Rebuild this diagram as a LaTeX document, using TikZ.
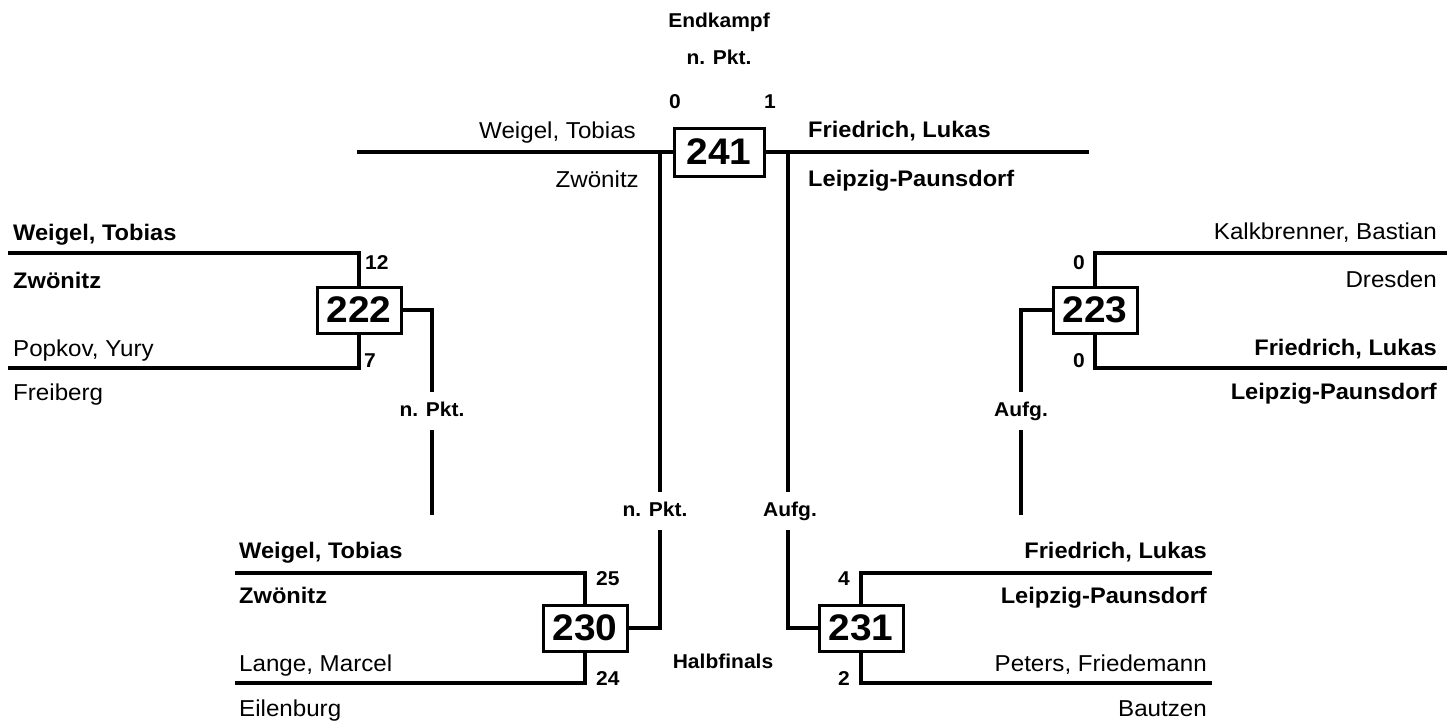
\documentclass[tikz,border=0pt]{standalone}
\usepackage{fontspec}
\setmainfont{Liberation Sans}[FakeStretch=1.05]
\begin{document}
\begin{tikzpicture}[x=1pt,y=-1pt,line join=miter]
\tikzset{
 ln/.style={line width=4.5pt},
 box/.style={draw, fill=white, line width=3pt, minimum width=84pt, minimum height=46pt, inner sep=0pt, font=\fontsize{37}{38}\selectfont\bfseries},
 nm/.style={inner sep=0pt, font=\fontsize{23}{25}\selectfont},
 nmb/.style={inner sep=0pt, font=\fontsize{22.5}{25}\selectfont\bfseries},
 sc/.style={inner sep=0pt, font=\fontsize{20}{22}\selectfont\bfseries},
}
\useasboundingbox (0,0) rectangle (1447,724);
% headings
\node[sc, anchor=base] (hEnd) at (719,27) {Endkampf};
\node[sc, anchor=base] (hEndP) at (719,64) {n. Pkt.};
\node[sc, anchor=base] (hHalb) at (723,668) {Halbfinals};
% boxes
\node[box, minimum width=90pt, minimum height=48pt] (b241) at (719,152) {241};
\node[box] (b222) at (359,310) {222};
\node[box] (b223) at (1095,310) {223};
\node[box] (b230) at (585,628) {230};
\node[box] (b231) at (861,628) {231};
% final lines
\coordinate (f1) at (357,152);
\coordinate (f2) at (1089,152);
\draw[ln] (f1) -- (b241.west);
\draw[ln] (b241.east) -- (f2);
\coordinate (v1a) at (660,152);
\coordinate (v1b) at (660,492);
\coordinate (v1c) at (660,530);
\coordinate (v2a) at (788,152);
\coordinate (v2b) at (788,492);
\coordinate (v2c) at (788,530);
\draw[ln] (v1a) -- (v1b);
\draw[ln] (v1c) |- (b230.east);
\draw[ln] (v2a) -- (v2b);
\draw[ln] (v2c) |- (b231.west);
\node[sc, anchor=base] (l241a) at (655,516) {n. Pkt.};
\node[sc, anchor=base] (l241b) at (790,516) {Aufg.};
\node[sc, anchor=base] (s241a) at (675,108) {0};
\node[sc, anchor=base] (s241b) at (770,108) {1};
\node[nm, anchor=base east] (t241a) at (636,138) {Weigel, Tobias};
\node[nm, anchor=base east] (t241b) at (639,187) {Zwönitz};
\node[nmb, anchor=base west] (t241c) at (808,137) {Friedrich, Lukas};
\node[nmb, anchor=base west] (t241d) at (808,186) {Leipzig-Paunsdorf};
% 222
\coordinate (p222a) at (8,253);
\coordinate (p222b) at (8,368);
\draw[ln] (p222a) -| (b222.north);
\draw[ln] (p222b) -| (b222.south);
\coordinate (c222a) at (432,392);
\coordinate (c222b) at (432,430);
\coordinate (c222c) at (432,515);
\draw[ln] (b222.east) -| (c222a);
\draw[ln] (c222b) -- (c222c);
\node[sc, anchor=base] (l222) at (432,416) {n. Pkt.};
\node[sc, anchor=base west] (s222a) at (365,269) {12};
\node[sc, anchor=base west] (s222b) at (364,367) {7};
\node[nmb, anchor=base west] (t222a) at (13,240) {Weigel, Tobias};
\node[nmb, anchor=base west] (t222b) at (13,288) {Zwönitz};
\node[nm, anchor=base west] (t222c) at (13,356) {Popkov, Yury};
\node[nm, anchor=base west] (t222d) at (13,400) {Freiberg};
% 223
\coordinate (p223a) at (1447,253);
\coordinate (p223b) at (1447,368);
\draw[ln] (p223a) -| (b223.north);
\draw[ln] (p223b) -| (b223.south);
\coordinate (c223a) at (1021,392);
\coordinate (c223b) at (1021,430);
\coordinate (c223c) at (1021,515);
\draw[ln] (b223.west) -| (c223a);
\draw[ln] (c223b) -- (c223c);
\node[sc, anchor=base] (l223) at (1021,416) {Aufg.};
\node[sc, anchor=base east] (s223a) at (1085,269) {0};
\node[sc, anchor=base east] (s223b) at (1085,367) {0};
\node[nm, anchor=base east] (t223a) at (1437,239) {Kalkbrenner, Bastian};
\node[nm, anchor=base east] (t223b) at (1437,287) {Dresden};
\node[nmb, anchor=base east] (t223c) at (1437,355) {Friedrich, Lukas};
\node[nmb, anchor=base east] (t223d) at (1437,399) {Leipzig-Paunsdorf};
% 230
\coordinate (p230a) at (235,573);
\coordinate (p230b) at (235,683);
\draw[ln] (p230a) -| (b230.north);
\draw[ln] (p230b) -| (b230.south);
\node[sc, anchor=base west] (s230a) at (596,585) {25};
\node[sc, anchor=base west] (s230b) at (596,685) {24};
\node[nmb, anchor=base west] (t230a) at (239,558) {Weigel, Tobias};
\node[nmb, anchor=base west] (t230b) at (239,603) {Zwönitz};
\node[nm, anchor=base west] (t230c) at (239,671) {Lange, Marcel};
\node[nm, anchor=base west] (t230d) at (239,716) {Eilenburg};
% 231
\coordinate (p231a) at (1212,573);
\coordinate (p231b) at (1212,683);
\draw[ln] (p231a) -| (b231.north);
\draw[ln] (p231b) -| (b231.south);
\node[sc, anchor=base east] (s231a) at (850,585) {4};
\node[sc, anchor=base east] (s231b) at (850,685) {2};
\node[nmb, anchor=base east] (t231a) at (1207,558) {Friedrich, Lukas};
\node[nmb, anchor=base east] (t231b) at (1207,603) {Leipzig-Paunsdorf};
\node[nm, anchor=base east] (t231c) at (1207,671) {Peters, Friedemann};
\node[nm, anchor=base east] (t231d) at (1207,716) {Bautzen};
% redraw boxes on top
\node[box, minimum width=90pt, minimum height=48pt] at (b241) {241};
\node[box] at (b222) {222};
\node[box] at (b223) {223};
\node[box] at (b230) {230};
\node[box] at (b231) {231};
\end{tikzpicture}
\end{document}
